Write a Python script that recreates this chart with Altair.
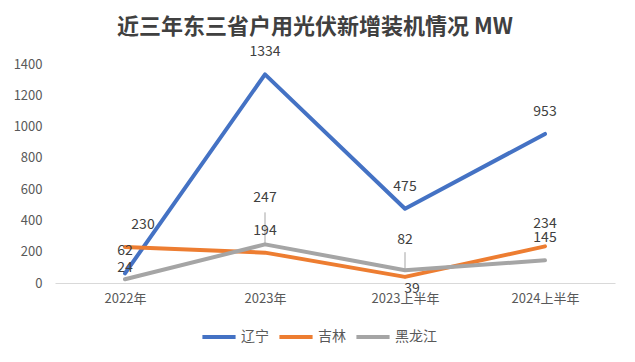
import altair as alt
import pandas as pd

categories = ["2022年", "2023年", "2023上半年", "2024上半年"]
series_names = ["辽宁", "吉林", "黑龙江"]
liaoning = [62, 1334, 475, 953]
jilin = [230, 194, 39, 234]
heilongjiang = [24, 247, 82, 145]
colors = ["#4472C4", "#ED7D31", "#A5A5A5"]

rows = []
for name, vals in zip(series_names, [liaoning, jilin, heilongjiang]):
    for c, v in zip(categories, vals):
        rows.append({"cat": c, "series": name, "value": v})
df = pd.DataFrame(rows)

FONT = "Noto Sans CJK SC"

x = alt.X("cat:N", sort=categories, scale=alt.Scale(type="point", padding=0.5),
          axis=alt.Axis(title=None, labelAngle=0, ticks=False, domainColor="#D9D9D9",
                        labelColor="#595959", labelFontSize=13, labelPadding=9, labelFont=FONT))
y = alt.Y("value:Q", scale=alt.Scale(domain=[0, 1400]),
          axis=alt.Axis(title=None, values=list(range(0, 1401, 200)), grid=False, domain=False,
                        ticks=False, labelColor="#595959", labelFontSize=13, labelPadding=13,
                        labelFont=FONT, format="d"))
color = alt.Color("series:N", scale=alt.Scale(domain=series_names, range=colors),
                  legend=alt.Legend(title=None, orient="none", direction="horizontal",
                                    legendX=145, legendY=254, symbolType="stroke",
                                    symbolSize=1100, symbolStrokeWidth=4, labelFontSize=14,
                                    labelColor="#595959", labelFont=FONT, labelOffset=3,
                                    columnPadding=2))

base = alt.Chart(df)
lines = base.mark_line(strokeWidth=4, strokeCap="round", strokeJoin="round").encode(
    x=x, y=y, color=color)

def is_(s, c):
    return (alt.datum.series == s) & (alt.datum.cat == c)

special = (is_("黑龙江", "2022年") | is_("黑龙江", "2023年") | is_("黑龙江", "2023上半年")
           | is_("吉林", "2023上半年") | is_("吉林", "2022年"))

tkw = dict(fontSize=14, color="#404040", font=FONT, baseline="middle", align="center")
labels = base.mark_text(dy=-22, **tkw).encode(x=x, y=y, text="value:Q").transform_filter(~special)
l_hlj22 = base.mark_text(dy=-11, **tkw).encode(x=x, y=y, text="value:Q").transform_filter(is_("黑龙江", "2022年"))
l_hlj23 = base.mark_text(dy=-46, **tkw).encode(x=x, y=y, text="value:Q").transform_filter(is_("黑龙江", "2023年"))
l_hlj23h = base.mark_text(dy=-30, **tkw).encode(x=x, y=y, text="value:Q").transform_filter(is_("黑龙江", "2023上半年"))
l_jl23h = base.mark_text(dy=12, dx=7, **tkw).encode(x=x, y=y, text="value:Q").transform_filter(is_("吉林", "2023上半年"))
l_jl22 = base.mark_text(dy=-22, dx=18, **tkw).encode(x=x, y=y, text="value:Q").transform_filter(is_("吉林", "2022年"))

lead1 = base.mark_rule(color="#A5A5A5", strokeWidth=1, y2Offset=-32).encode(
    x=x, y=y, y2=alt.Y2("value:Q")).transform_filter(is_("黑龙江", "2023年"))
lead2 = base.mark_rule(color="#A5A5A5", strokeWidth=1, y2Offset=-18).encode(
    x=x, y=y, y2=alt.Y2("value:Q")).transform_filter(is_("黑龙江", "2023上半年"))

chart = alt.layer(lead1, lead2, lines, labels, l_hlj22, l_hlj23, l_hlj23h, l_jl23h, l_jl22).properties(
    width=560, height=219,
    autosize=alt.AutoSizeParams(type="none"),
    padding={"left": 47, "top": 56, "right": 12, "bottom": 71},
    title=alt.TitleParams("近三年东三省户用光伏新增装机情况 MW", fontSize=22, fontWeight="bold",
                          color="#404040", font=FONT, anchor="middle", offset=6, dx=-20),
    background="white",
).configure_view(stroke=None)

chart.save("out.html", embed_options={"renderer": "svg", "actions": False})
